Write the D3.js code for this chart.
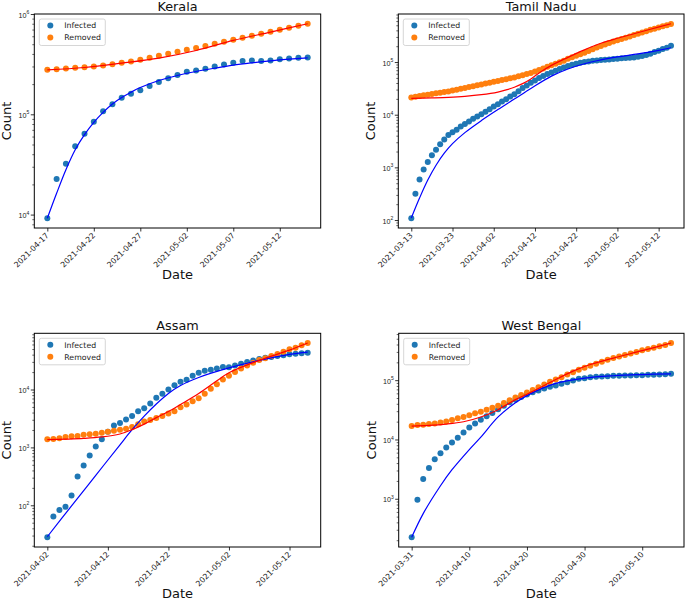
<!DOCTYPE html>
<html><head><meta charset="utf-8">
<script src="https://cdn.jsdelivr.net/npm/d3@7"></script>
<style>body{margin:0;background:#fff} svg{display:block;font-family:"DejaVu Sans",sans-serif}</style>
</head><body>
<svg id="c" width="685" height="601"></svg>
<script>
// ---------- Kerala ----------
const keralaStart = "2021-04-17";
const keralaInfected = [9200, 22700, 32100, 47900, 64100, 84500, 107000, 126000, 146000, 160000, 174000, 192000, 210000, 229000, 247000, 265000, 273000, 284000, 300000, 314000, 326000, 341000, 344000, 341000, 344000, 355000, 360000, 366000, 369000];
const keralaRemoved = [277500, 281800, 286200, 290600, 295100, 299700, 306700, 316200, 326100, 336300, 349400, 365900, 383100, 401200, 420100, 439900, 457100, 478600, 505000, 528800, 553700, 579800, 607100, 635700, 665600, 697000, 729800, 764200, 800200];
const keralaFitInfDays = [0, 1, 2, 3, 4, 5, 6, 7, 8, 9, 10, 12, 14, 16, 18, 20, 22, 24, 26, 28];
const keralaFitInfected = [9190, 16300, 28000, 44300, 62700, 83200, 104700, 126800, 146800, 166000, 184800, 217300, 243800, 267200, 288400, 309000, 326000, 341500, 354800, 365900];
const keralaFitRemDays = [0, 4, 8, 12, 16, 20, 24, 28];
const keralaFitRemoved = [277500, 292900, 323600, 363100, 433100, 545300, 660700, 800200];
const keralaTicks = ["2021-04-17", "2021-04-22", "2021-04-27", "2021-05-02", "2021-05-07", "2021-05-12"];

// ---------- Tamil Nadu ----------
const tnStart = "2021-03-13";
const tnInfected = [108, 315, 590, 916, 1260, 1690, 2170, 2740, 3370, 4130, 4650, 5210, 5950, 6690, 7420, 8340, 9230, 10230, 11330, 12740, 14320, 15860, 17830, 19740, 22190, 24570, 28030, 31990, 35950, 40390, 44750, 49560, 54110, 59050, 63500, 68370, 73570, 79150, 83900, 88940, 92960, 97150, 100000, 103000, 106000, 107600, 109000, 110800, 112400, 114100, 115800, 117500, 119200, 121000, 122700, 126400, 130100, 136000, 144100, 155000, 164400, 176900, 187800, 204800];
const tnRemoved = [21270, 21930, 22610, 23330, 24050, 24800, 25460, 26260, 26950, 27670, 28780, 29800, 31000, 32260, 33560, 34760, 36150, 37610, 39110, 40530, 42150, 43830, 45590, 47230, 49120, 51140, 53670, 56270, 59330, 62260, 66500, 71020, 75860, 81020, 86530, 92860, 99560, 106300, 115000, 123400, 131800, 141400, 151000, 162700, 174600, 188000, 201600, 216300, 230100, 244700, 260300, 274400, 290400, 307400, 325400, 344500, 364700, 386100, 408700, 428800, 452100, 476600, 502400, 529700];
const tnFitInfDays = [0, 2, 4, 6, 8, 10, 13, 17, 21, 25, 29, 34, 38, 42, 45, 50, 55, 60, 63];
const tnFitInfected = [109, 261, 575, 1100, 1860, 2820, 4570, 7740, 12500, 19800, 31500, 54000, 74000, 93000, 106000, 125000, 143000, 167000, 187000];
const tnFitRemDays = [0, 5, 9, 13, 17, 21, 23, 25, 27, 29, 31, 34, 38, 42, 46, 50, 54, 58, 63];
const tnFitRemoved = [20370, 20890, 21440, 22390, 24040, 26930, 29540, 33240, 38920, 47860, 62260, 86530, 122900, 170700, 227100, 282700, 344400, 419700, 534500];
const tnTicks = ["2021-03-13", "2021-03-23", "2021-04-02", "2021-04-12", "2021-04-22", "2021-05-02", "2021-05-12"];

// ---------- Assam ----------
const assamStart = "2021-04-02";
const assamInfected = [28, 64, 83, 94, 147, 314, 488, 727, 1040, 1377, 1870, 2380, 2640, 3020, 3490, 4210, 4740, 5720, 7170, 8410, 10000, 11900, 13600, 14700, 17300, 19500, 21100, 21900, 23100, 24400, 24300, 26100, 27900, 29800, 31800, 33600, 35400, 36400, 37900, 38900, 40500, 41500, 42300, 43300];
const assamRemoved = [1377, 1395, 1432, 1511, 1552, 1573, 1660, 1681, 1726, 1795, 1870, 1945, 2024, 2106, 2253, 2506, 2788, 2979, 3226, 3494, 3833, 4209, 4938, 5494, 6279, 7076, 8410, 10270, 12370, 14900, 17260, 19980, 23130, 26070, 28980, 32260, 34500, 37840, 41000, 44980, 49400, 52830, 57970, 63550];
const assamFitInfDays = [0, 4, 8, 12, 14, 16, 18, 20, 22, 25, 30, 35, 40, 43];
const assamFitInfected = [28.6, 97.5, 329, 1110, 2020, 3470, 5610, 8530, 11730, 16150, 23600, 31850, 40460, 44360];
const assamFitRemDays = [0, 3, 6, 9, 12, 14, 16, 18, 20, 22, 25, 28, 30, 35, 40, 43];
const assamFitRemoved = [1358, 1388, 1431, 1515, 1706, 2024, 2521, 3268, 4154, 5500, 8510, 14130, 19500, 31850, 47960, 63540];
const assamTicks = ["2021-04-02", "2021-04-12", "2021-04-22", "2021-05-02", "2021-05-12"];

// ---------- West Bengal ----------
const wbStart = "2021-03-31";
const wbInfected = [224, 962, 2155, 3311, 4642, 5866, 7318, 8892, 10670, 13140, 15970, 18660, 21540, 24530, 27940, 32230, 37210, 42370, 46990, 52200, 57180, 62620, 66860, 72250, 77170, 81210, 86730, 92540, 98700, 105300, 108100, 112400, 113800, 115300, 116900, 118400, 118400, 120000, 120000, 121600, 121600, 123200, 123200, 124800, 126400, 128000];
const wbRemoved = [16830, 17500, 17730, 18190, 18660, 19410, 20190, 21260, 22700, 23920, 25530, 27590, 29450, 31830, 34410, 37210, 41300, 45810, 50820, 56380, 61800, 68550, 76060, 84490, 93710, 102600, 112400, 124800, 136700, 149700, 161800, 175000, 189200, 204600, 221200, 236000, 251900, 265300, 283100, 298400, 318500, 335200, 353300, 372400, 391700, 423600];
const wbFitInfDays = [0, 2, 5, 7, 10, 12, 15, 18, 20, 25, 30, 35, 40, 45];
const wbFitInfected = [224, 562, 1660, 3090, 6760, 10960, 23990, 41690, 54950, 88100, 108400, 118900, 124500, 128000];
const wbFitRemDays = [0, 3, 6, 9, 12, 15, 18, 20, 23, 25, 28, 30, 35, 40, 45];
const wbFitRemoved = [16830, 17260, 18190, 19920, 23920, 31830, 46990, 57920, 81210, 102600, 142100, 170500, 236000, 314300, 423600];
const wbTicks = ["2021-03-31", "2021-04-10", "2021-04-20", "2021-04-30", "2021-05-10"];

const seriesNames = ["Infected", "Removed"];

// ---------- drawing ----------
const svg = d3.select("#c");
const parse = d3.utcParse("%Y-%m-%d");
const fmt = d3.utcFormat("%Y-%m-%d");
const DAY = 864e5;
const C_INF = "#1f77b4", C_REM = "#ff7f0e", C_FIT_INF = "#0000ff", C_FIT_REM = "#ff0000";

const panels = [
  {title: "Kerala", start: keralaStart, infected: keralaInfected, removed: keralaRemoved,
   fitInfDays: keralaFitInfDays, fitInf: keralaFitInfected, fitRemDays: keralaFitRemDays, fitRem: keralaFitRemoved,
   ticks: keralaTicks, box: {l: 34.3, r: 320.7, t: 14, b: 228}},
  {title: "Tamil Nadu", start: tnStart, infected: tnInfected, removed: tnRemoved,
   fitInfDays: tnFitInfDays, fitInf: tnFitInfected, fitRemDays: tnFitRemDays, fitRem: tnFitRemoved,
   ticks: tnTicks, box: {l: 398.3, r: 684, t: 14, b: 228}},
  {title: "Assam", start: assamStart, infected: assamInfected, removed: assamRemoved,
   fitInfDays: assamFitInfDays, fitInf: assamFitInfected, fitRemDays: assamFitRemDays, fitRem: assamFitRemoved,
   ticks: assamTicks, box: {l: 34.3, r: 320.7, t: 333.3, b: 547}},
  {title: "West Bengal", start: wbStart, infected: wbInfected, removed: wbRemoved,
   fitInfDays: wbFitInfDays, fitInf: wbFitInfected, fitRemDays: wbFitRemDays, fitRem: wbFitRemoved,
   ticks: wbTicks, box: {l: 398.7, r: 684, t: 333.3, b: 547}}
];

panels.forEach(p => {
  const {l, r, t, b} = p.box;
  const g = svg.append("g");
  const start = parse(p.start);
  const day = i => new Date(+start + i * DAY);
  const n = p.infected.length;
  const span = (n - 1) * DAY;
  const x = d3.scaleUtc()
    .domain([new Date(+start - 0.05 * span), new Date(+start + 1.05 * span)])
    .range([l, r]);
  const all = p.infected.concat(p.removed, p.fitInf, p.fitRem);
  const lo = Math.log10(d3.min(all)), hi = Math.log10(d3.max(all));
  const pad = 0.05 * (hi - lo);
  const y = d3.scaleLog().domain([10 ** (lo - pad), 10 ** (hi + pad)]).range([b, t]);

  // x axis
  const xAxis = d3.axisBottom(x).tickValues(p.ticks.map(parse)).tickFormat(fmt).tickSize(3.5).tickPadding(0);
  const xg = g.append("g").attr("transform", `translate(0,${b})`).call(xAxis);
  xg.select(".domain").remove();
  xg.selectAll(".tick line").attr("stroke", "#000").attr("stroke-width", 0.8);
  xg.selectAll(".tick text")
    .attr("y", 0).attr("dy", null).attr("x", 0)
    .attr("text-anchor", "end")
    .attr("transform", "translate(1.5,8) rotate(-45)")
    .attr("font-size", 7.8).attr("font-family", "DejaVu Sans").attr("fill", "#222");

  // y axis: major decades + minor ticks
  const [d0, d1] = y.domain();
  const majors = [], minors = [];
  for (let k = Math.floor(Math.log10(d0)); k <= Math.ceil(Math.log10(d1)); k++) {
    const v = 10 ** k;
    if (v >= d0 * 0.9999 && v <= d1 * 1.0001) majors.push(k);
    for (let m = 2; m <= 9; m++) {
      const mv = m * 10 ** k;
      if (mv >= d0 && mv <= d1) minors.push(mv);
    }
  }
  const yMinor = d3.axisLeft(y).tickValues(minors).tickFormat("").tickSize(2);
  const ymg = g.append("g").attr("transform", `translate(${l},0)`).call(yMinor);
  ymg.select(".domain").remove();
  ymg.selectAll(".tick line").attr("stroke", "#000").attr("stroke-width", 0.6);

  const yMajor = d3.axisLeft(y).tickValues(majors.map(k => 10 ** k)).tickFormat("").tickSize(3.5);
  const yg = g.append("g").attr("transform", `translate(${l},0)`).call(yMajor);
  yg.select(".domain").remove();
  yg.selectAll(".tick line").attr("stroke", "#000").attr("stroke-width", 0.8);
  yg.selectAll(".tick").each(function (v) {
    const k = Math.round(Math.log10(v));
    const tx = d3.select(this).append("text")
      .attr("x", -5).attr("y", 3.2).attr("text-anchor", "end")
      .attr("font-size", 7.2).attr("fill", "#222");
    tx.append("tspan").text("10");
    tx.append("tspan").attr("dy", -3.6).attr("font-size", 5).text(k);
  });

  // scatter
  g.append("g").selectAll("circle").data(p.infected).join("circle")
    .attr("cx", (d, i) => x(day(i))).attr("cy", d => y(d)).attr("r", 3).attr("fill", C_INF);
  g.append("g").selectAll("circle").data(p.removed).join("circle")
    .attr("cx", (d, i) => x(day(i))).attr("cy", d => y(d)).attr("r", 3).attr("fill", C_REM);

  // fitted curves
  const line = d3.line().x(d => x(day(d[0]))).y(d => y(d[1])).curve(d3.curveCatmullRom.alpha(0.5));
  g.append("path").datum(d3.zip(p.fitInfDays, p.fitInf)).attr("d", line)
    .attr("fill", "none").attr("stroke", C_FIT_INF).attr("stroke-width", 1.2);
  g.append("path").datum(d3.zip(p.fitRemDays, p.fitRem)).attr("d", line)
    .attr("fill", "none").attr("stroke", C_FIT_REM).attr("stroke-width", 1.2);

  // frame
  g.append("rect").attr("x", l).attr("y", t).attr("width", r - l).attr("height", b - t)
    .attr("fill", "none").attr("stroke", "#000").attr("stroke-width", 1);

  // legend
  const lg = g.append("g").attr("transform", `translate(${l + 5},${t + 5})`);
  lg.append("rect").attr("width", 66).attr("height", 26.5).attr("rx", 2)
    .attr("fill", "#fff").attr("fill-opacity", 0.8).attr("stroke", "#cccccc").attr("stroke-width", 0.8);
  [C_INF, C_REM].forEach((c, i) => {
    lg.append("circle").attr("cx", 11).attr("cy", 6.5 + i * 12).attr("r", 3).attr("fill", c);
    lg.append("text").attr("x", 25).attr("y", 6.5 + i * 12).attr("dy", "0.35em")
      .attr("font-size", 7.8).attr("fill", "#222").text(seriesNames[i]);
  });

  // title & labels
  g.append("text").attr("x", (l + r) / 2).attr("y", t - 3.5).attr("text-anchor", "middle")
    .attr("font-size", 12.8).attr("fill", "#111").text(p.title);
  g.append("text").attr("x", (l + r) / 2).attr("y", b + 51).attr("text-anchor", "middle")
    .attr("font-size", 13).attr("fill", "#111").text("Date");
  g.append("text").attr("transform", `translate(${l - 23},${(t + b) / 2}) rotate(-90)`)
    .attr("text-anchor", "middle").attr("font-size", 13).attr("fill", "#111").text("Count");
});
</script>
</body></html>
